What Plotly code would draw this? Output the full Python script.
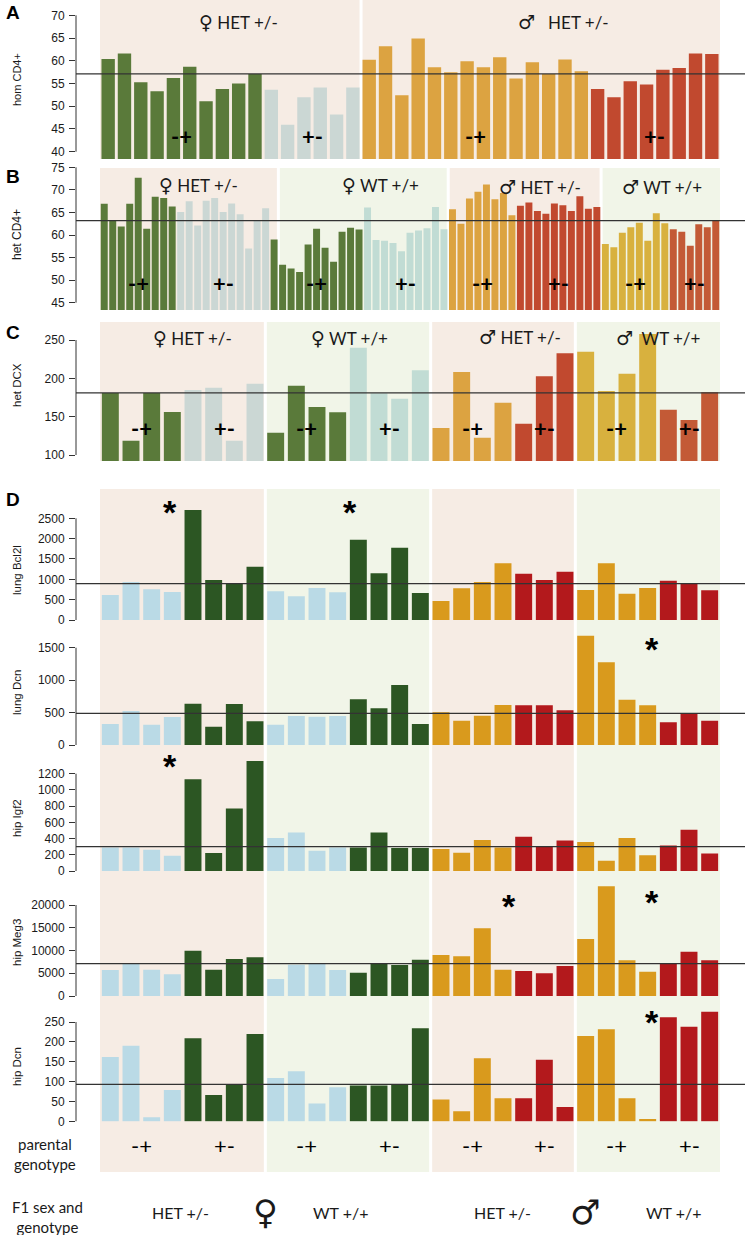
import plotly.graph_objects as go

W, H = 745, 1235

# ======================= DATA =======================
# Panel A: hom CD4+ (female HET, male HET; parental genotype -+ / +-)
A_fem_het_mp = [60.4, 61.6, 55.3, 53.3, 56.2, 58.7, 51.1, 53.8, 55.0, 57.1]
A_fem_het_pm = [53.6, 45.9, 52.0, 54.1, 48.2, 54.1]
A_male_het_mp = [60.2, 63.2, 52.4, 64.9, 58.6, 57.5, 59.9, 58.6, 60.8, 56.1, 59.7, 57.1, 60.3, 57.7]
A_male_het_pm = [53.8, 52.0, 55.5, 54.8, 58.0, 58.4, 61.6, 61.5]
A_mean = 57.1
A_ticks = [40, 45, 50, 55, 60, 65, 70]

# Panel B: het CD4+
B_fem_het_mp = [66.9, 63.1, 61.9, 66.9, 72.7, 61.4, 68.5, 68.2, 66.3]
B_fem_het_pm = [65.1, 67.5, 62.1, 67.6, 68.2, 65.1, 67.0, 64.6, 57.0, 63.2, 65.9]
B_fem_wt_mp = [59.0, 53.4, 52.6, 51.8, 57.9, 61.4, 57.2, 54.1, 60.7, 61.6, 61.2]
B_fem_wt_pm = [66.1, 58.9, 58.7, 58.2, 56.4, 60.5, 61.0, 61.5, 66.2, 61.3]
B_male_het_mp = [65.7, 62.5, 68.1, 69.6, 71.2, 67.9, 69.3, 64.4]
B_male_het_pm = [66.5, 67.2, 65.3, 64.7, 67.0, 66.6, 65.3, 68.6, 65.8, 66.2]
B_male_wt_mp = [58.0, 57.3, 60.5, 61.7, 62.7, 58.7, 64.8, 62.6]
B_male_wt_pm = [61.3, 60.7, 57.6, 62.4, 61.7, 63.3]
B_mean = 63.2
B_ticks = [45, 50, 55, 60, 65, 70, 75]

# Panel C: het DCX
C_fem_het_mp = [181, 118.7, 181, 156]
C_fem_het_pm = [184.8, 187.8, 118.7, 193]
C_fem_wt_mp = [129, 190.4, 162.6, 155.7]
C_fem_wt_pm = [240, 180.4, 173.5, 210.4]
C_male_het_mp = [135.2, 208.3, 122.6, 168.3]
C_male_het_pm = [140.9, 202.6, 232.6]
C_male_wt_mp = [234.8, 183.5, 206.1, 257.8]
C_male_wt_pm = [159.1, 145.6, 181.7]
C_mean = 181
C_ticks = [100, 150, 200, 250]

# Panel D: groups in order fem HET (-+, +-), fem WT (-+, +-), male HET (-+, +-), male WT (-+, +-)
D_group_sizes = [4, 4, 4, 4, 4, 3, 4, 3]
D_genotypes = ["-+", "+-", "-+", "+-", "-+", "+-", "-+", "+-"]
lung_Bcl2l = [615, 934, 754, 689, 2705, 984, 893, 1311,
              705, 582, 787, 680, 1975, 1148, 1779, 664,
              467, 779, 934, 1393, 1139, 984, 1189,
              738, 1393, 648, 787, 967, 893, 730]
lung_Dcn = [324, 524, 313, 432, 637, 283, 632, 365,
            313, 447, 437, 447, 704, 565, 925, 324,
            504, 375, 452, 617, 612, 612, 534,
            1686, 1275, 699, 612, 350, 478, 375]
hip_Igf2 = [291, 291, 262, 189, 1131, 221, 770, 1357,
            406, 475, 250, 291, 291, 475, 285, 285,
            270, 225, 381, 291, 422, 303, 377,
            357, 127, 406, 193, 316, 508, 217]
hip_Meg3 = [5714, 7033, 5787, 4762, 9963, 5787, 8132, 8498,
            3736, 6886, 7179, 5714, 5128, 7179, 6813, 7985,
            9011, 8718, 14872, 5787, 5495, 4982, 6593,
            12527, 24102, 7839, 5348, 7179, 9743, 7839]
hip_Dcn = [162, 190, 10, 79, 209, 66, 92, 220,
           109, 126, 45, 86, 90, 90, 94, 234,
           55, 25, 159, 58, 58, 155, 36,
           215, 232, 58, 6, 262, 238, 276]
D_means = {"lung Bcl2l": 893, "lung Dcn": 488, "hip Igf2": 300, "hip Meg3": 7106, "hip Dcn": 93}
D_ticks = {"lung Bcl2l": [0, 500, 1000, 1500, 2000, 2500],
           "lung Dcn": [0, 500, 1000, 1500],
           "hip Igf2": [0, 200, 400, 600, 800, 1000, 1200],
           "hip Meg3": [0, 5000, 10000, 15000, 20000],
           "hip Dcn": [0, 50, 100, 150, 200, 250]}

# ======================= STYLE =======================
PEACH = "#f6ece4"
GREENBG = "#f1f5e8"
OLIVE = "#5a7a3a"
GREY = "#cbd7d4"
TEAL = "#c1dcd4"
ORANGE = "#dca341"
RED = "#c1492f"
YELLOW = "#d8b13e"
BRICK = "#c35a36"
LBLUE = "#badae6"
DGREEN = "#2c5623"
DORANGE = "#d99a1d"
DRED = "#b3191c"
INK = "#1a1a1a"
AXC = "#333333"
SANS = "Liberation Sans, Arial, sans-serif"
HUM = "Lato, Open Sans, sans-serif"
TICK_FONT = dict(family=SANS, size=12, color=INK)

X0_PX, X1_PX, AX_PX = 100.0, 720.0, 76.0
GAP_PX = 3.0


def py(p):
    return 1 - p / H


def pxx(p):
    return p / W


fig = go.Figure()
shapes, annos, axes = [], [], {}


def add_panel(k, groups, regions, bg_px, dom_px, cal, ticks, mean, title, title_y,
              title_size=11.5, geno_y=None, geno_font=None):
    ax = "" if k == 1 else str(k)
    n = sum(len(g[0]) for g in groups)
    pitch = (X1_PX - X0_PX) / n
    xr = [(AX_PX - X0_PX) / pitch - 0.5, (W - X0_PX) / pitch - 0.5]
    (v1, p1), (v2, p2) = cal
    s = (v2 - v1) / (p2 - p1)
    yr = [v1 + (dom_px[1] - p1) * s, v1 + (dom_px[0] - p1) * s]
    axes["xaxis" + ax] = dict(domain=[AX_PX / W, 1], range=xr, visible=False,
                              anchor="y" + ax, fixedrange=True, automargin=False)
    axes["yaxis" + ax] = dict(domain=[py(dom_px[1]), py(dom_px[0])], range=yr,
                              anchor="x" + ax, tickvals=ticks,
                              ticktext=[str(t) for t in ticks], ticks="outside",
                              ticklen=6, tickwidth=1, tickcolor=AXC, showline=False,
                              showgrid=False, zeroline=False, tickfont=TICK_FONT,
                              ticklabelstandoff=2, fixedrange=True, automargin=False)
    start = 0
    for vals, color, geno in groups:
        xs = list(range(start, start + len(vals)))
        fig.add_trace(go.Bar(x=xs, y=vals, marker=dict(color=color, line=dict(width=0)),
                             width=0.82, xaxis="x" + ax, yaxis="y" + ax,
                             showlegend=False, hoverinfo="skip"))
        if geno_y is not None:
            annos.append(dict(x=start + (len(vals) - 1) / 2, y=py(geno_y), xref="x" + ax,
                              yref="paper", text=geno, showarrow=False, font=geno_font,
                              xanchor="center", yanchor="middle"))
        start += len(vals)
    if regions:
        s0 = 0
        for i, (cnt, color) in enumerate(regions):
            x0 = s0 - 0.5 + (GAP_PX / 2 / pitch if i > 0 else 0)
            x1 = s0 + cnt - 0.5 - (GAP_PX / 2 / pitch if i < len(regions) - 1 else 0)
            shapes.append(dict(type="rect", xref="x" + ax, yref="paper", x0=x0, x1=x1,
                               y0=py(bg_px[1]), y1=py(bg_px[0]), fillcolor=color,
                               line=dict(width=0), layer="below"))
            s0 += cnt
    shapes.append(dict(type="line", xref="paper", yref="y" + ax, x0=AX_PX / W, x1=AX_PX / W,
                       y0=ticks[0], y1=ticks[-1], line=dict(color=AXC, width=1)))
    shapes.append(dict(type="line", xref="paper", yref="y" + ax, x0=AX_PX / W, x1=1,
                       y0=mean, y1=mean, line=dict(color=AXC, width=1.3)))
    annos.append(dict(x=pxx(17), y=py(title_y), xref="paper", yref="paper", text=title,
                      textangle=-90, showarrow=False,
                      font=dict(family=SANS, size=title_size, color=INK),
                      xanchor="center", yanchor="middle"))


BOLD_GENO = dict(family=HUM, size=22, color="#000000", weight="bold")

# Panel A
add_panel(1, [(A_fem_het_mp, OLIVE, "-+"), (A_fem_het_pm, GREY, "+-"),
              (A_male_het_mp, ORANGE, "-+"), (A_male_het_pm, RED, "+-")],
          [(16, PEACH), (22, PEACH)], (0, 159), (0, 159), ((70, 15.3), (40, 151.7)),
          A_ticks, A_mean, "hom CD4+", 80, 11, geno_y=136, geno_font=BOLD_GENO)
# Panel B
add_panel(2, [(B_fem_het_mp, OLIVE, "-+"), (B_fem_het_pm, GREY, "+-"),
              (B_fem_wt_mp, OLIVE, "-+"), (B_fem_wt_pm, TEAL, "+-"),
              (B_male_het_mp, ORANGE, "-+"), (B_male_het_pm, RED, "+-"),
              (B_male_wt_mp, YELLOW, "-+"), (B_male_wt_pm, BRICK, "+-")],
          [(21, PEACH), (20, GREENBG), (18, PEACH), (14, GREENBG)], (168, 310), (166, 310),
          ((75, 167.3), (45, 302.7)), B_ticks, B_mean, "het CD4+", 235, 12,
          geno_y=284, geno_font=BOLD_GENO)
# Panel C
add_panel(3, [(C_fem_het_mp, OLIVE, "-+"), (C_fem_het_pm, GREY, "+-"),
              (C_fem_wt_mp, OLIVE, "-+"), (C_fem_wt_pm, TEAL, "+-"),
              (C_male_het_mp, ORANGE, "-+"), (C_male_het_pm, RED, "+-"),
              (C_male_wt_mp, YELLOW, "-+"), (C_male_wt_pm, BRICK, "+-")],
          [(8, PEACH), (8, GREENBG), (7, PEACH), (7, GREENBG)], (322, 461), (322, 461),
          ((250, 340), (100, 455)), C_ticks, C_mean, "het DCX", 385, 11.5,
          geno_y=429, geno_font=BOLD_GENO)

# Panel D
D_colors = [LBLUE, DGREEN, LBLUE, DGREEN, DORANGE, DRED, DORANGE, DRED]
D_panels = [("lung Bcl2l", lung_Bcl2l, ((2500, 518.3), (0, 620)), (489, 620.5), 570),
            ("lung Dcn", lung_Dcn, ((1500, 647.7), (0, 745)), (628, 745.5), 693),
            ("hip Igf2", hip_Igf2, ((1200, 773.7), (0, 871)), (750, 871.5), 818),
            ("hip Meg3", hip_Meg3, ((20000, 905), (0, 996)), (878, 996.5), 943),
            ("hip Dcn", hip_Dcn, ((250, 1022), (0, 1121.3)), (1003, 1121.8), 1067)]
for j, (name, vals, cal, dom, ty) in enumerate(D_panels):
    groups, s = [], 0
    for size, col, geno in zip(D_group_sizes, D_colors, D_genotypes):
        groups.append((vals[s:s + size], col, geno))
        s += size
    last = j == len(D_panels) - 1
    add_panel(4 + j, groups,
              [(8, PEACH), (8, GREENBG), (7, PEACH), (7, GREENBG)] if j == 0 else None,
              (489, 1172), dom, cal, D_ticks[name], D_means[name], name, ty, 11.5,
              geno_y=1145 if last else None,
              geno_font=dict(family=HUM, size=22, color="#000000"))

# significance stars (D) : (bar position, pixel y)
STARS = [(2.9, 503), (11.6, 503), (26.2, 640), (2.9, 757), (19.3, 897), (26.2, 893), (26.2, 1013)]
for xs, ys in STARS:
    annos.append(dict(x=xs, y=py(ys), xref="x4", yref="paper", text="*", showarrow=False,
                      font=dict(family=SANS, size=34, color="#000000", weight="bold"),
                      xanchor="center", yanchor="middle", yshift=-9))

# group labels for A, B, C
SYM = '<span style="font-family:DejaVu Sans;font-size:19px">{}</span>'
FEM, MAL = SYM.format("\u2640"), SYM.format("\u2642")
LABELS = [(FEM + " HET +/-", 238, 22), (MAL + "   HET +/-", 563, 22),
          (FEM + " HET +/-", 198, 185), (FEM + " WT +/+", 380, 185),
          (MAL + " HET +/-", 540, 187), (MAL + " WT +/+", 662, 187),
          (FEM + " HET +/-", 192, 338), (FEM + " WT +/+", 349, 338),
          (MAL + " HET +/-", 520, 337), (MAL + "  WT +/+", 658, 338)]
for t, x, y in LABELS:
    annos.append(dict(x=pxx(x), y=py(y), xref="paper", yref="paper", text=t, showarrow=False,
                      font=dict(family=HUM, size=17, color=INK), xanchor="center",
                      yanchor="middle"))

# panel letters
for t, x, y in [("A", 13, 12), ("B", 13, 177), ("C", 13, 332), ("D", 13, 499)]:
    annos.append(dict(x=pxx(x), y=py(y), xref="paper", yref="paper", text=t, showarrow=False,
                      font=dict(family=SANS, size=19, color="#000000", weight="bold"),
                      xanchor="center", yanchor="middle"))

# bottom text rows
BOTTOM = [("parental<br>genotype", 45, 1154, 15), ("F1 sex and<br>genotype", 47, 1217, 15),
          ("HET +/-", 180, 1212, 16), ("WT +/+", 340, 1212, 16),
          ("HET +/-", 503, 1212, 16), ("WT +/+", 673, 1212, 16)]
for t, x, y, s in BOTTOM:
    annos.append(dict(x=pxx(x), y=py(y), xref="paper", yref="paper", text=t, showarrow=False,
                      font=dict(family=HUM, size=s, color=INK), xanchor="center",
                      yanchor="middle"))
for t, x, y in [("\u2640", 265, 1212), ("\u2642", 585, 1212)]:
    annos.append(dict(x=pxx(x), y=py(y), xref="paper", yref="paper", text=t, showarrow=False,
                      font=dict(family="DejaVu Sans", size=34, color=INK), xanchor="center",
                      yanchor="middle"))

fig.update_layout(width=W, height=H, margin=dict(l=0, r=0, t=0, b=0, autoexpand=False),
                  paper_bgcolor="white", plot_bgcolor="rgba(0,0,0,0)",
                  barmode="overlay", showlegend=False, shapes=shapes, annotations=annos,
                  **axes)
fig.write_html("out.html", config={"displayModeBar": False},
               post_script="document.body.style.margin='0';document.body.style.overflow='hidden';")
